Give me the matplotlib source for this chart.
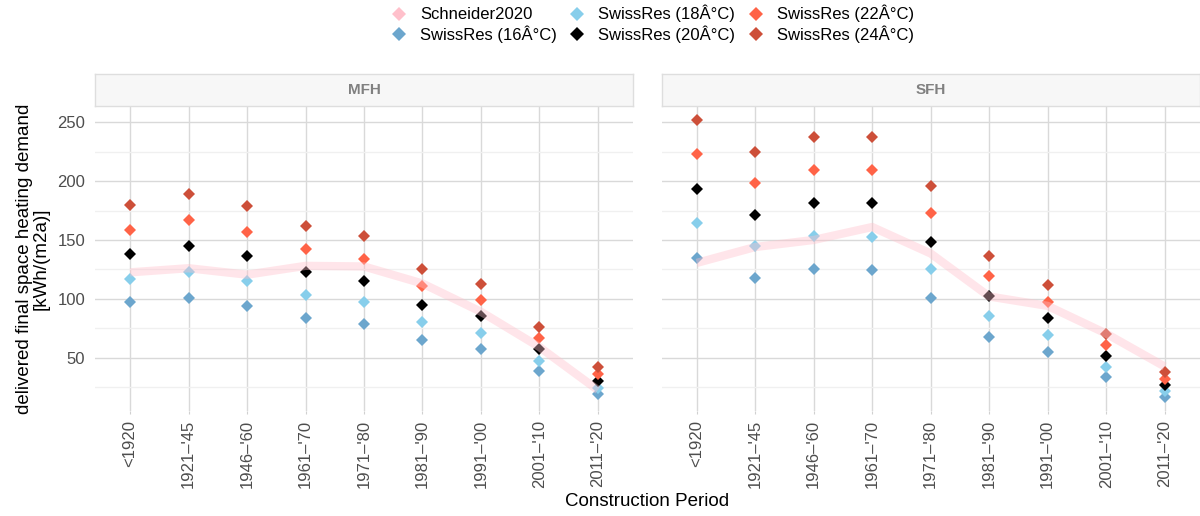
import numpy as np
import matplotlib
matplotlib.use("Agg")
import matplotlib.pyplot as plt
from matplotlib.lines import Line2D

plt.rcParams["font.family"] = ["Liberation Sans", "DejaVu Sans"]

periods = ["<1920", "1921–'45", "1946–'60", "1961–'70", "1971–'80",
           "1981–'90", "1991–'00", "2001–'10", "2011–'20"]

# MFH
mfh_schneider = [122.5, 126, 120.5, 128, 127.5, 113, 89, 59, 22.5]
mfh_16 = [97, 100.5, 94, 83.5, 78.5, 65, 57, 38.5, 19.5]
mfh_18 = [117, 123, 115, 103, 97, 80, 71, 47.5, 24.5]
mfh_20 = [138, 145, 136, 122.5, 115.5, 95, 85, 57, 30]
mfh_22 = [158.5, 167, 157, 142, 134, 110.5, 99, 66.5, 36]
mfh_24 = [179.5, 189, 178.5, 162, 153, 125.5, 113, 76, 42]

# SFH
sfh_schneider = [130.5, 144, 150, 161, 138.5, 102, 94, 70.5, 42.5]
sfh_16 = [135, 118, 125, 124.5, 101, 68, 55, 34, 16.5]
sfh_18 = [164.5, 145, 153, 152.5, 125, 85, 69.5, 42.5, 21.5]
sfh_20 = [193.5, 171.5, 181, 181, 148.5, 102, 83.5, 51.5, 26.5]
sfh_22 = [223, 198.5, 209.5, 209.5, 172.5, 119, 97.5, 61, 32]
sfh_24 = [252, 224.5, 237.5, 237.5, 196, 136, 112, 70, 37.5]

labels = ["Schneider2020", "SwissRes (16Â°C)", "SwissRes (18Â°C)",
          "SwissRes (20Â°C)", "SwissRes (22Â°C)", "SwissRes (24Â°C)"]
colors = ["#FFC0CB", "#6CA6CD", "#87CEEB", "#000000", "#FF6347", "#CD4F39"]

panels = {
    "MFH": (mfh_schneider, [mfh_16, mfh_18, mfh_20, mfh_22, mfh_24]),
    "SFH": (sfh_schneider, [sfh_16, sfh_18, sfh_20, sfh_22, sfh_24]),
}

allvals = np.concatenate([np.ravel(v[0]) for v in panels.values()] +
                         [np.ravel(s) for v in panels.values() for s in v[1]])
lo, hi = allvals.min(), allvals.max()
pad = 0.05 * (hi - lo)

fig = plt.figure(figsize=(12, 5.16), dpi=100)

W, H = 1200.0, 516.0
lefts = [95 / W, 661.7 / W]
width = 538 / W
bottom = 1 - 411 / H
height = (411 - 106) / H
strip_h = (106 - 74.5) / H

x = np.arange(len(periods))
for (name, (schn, series)), left in zip(panels.items(), lefts):
    ax = fig.add_axes([left, bottom, width, height])
    for vals, c in zip(series, colors[1:]):
        ax.plot(x, vals, linestyle="none", marker="D", markersize=6,
                markeredgewidth=0, color=c, zorder=3)
    ax.plot(x, schn, color=colors[0], alpha=0.4, linewidth=6,
            solid_capstyle="butt", zorder=4)
    ax.set_xlim(-0.6, len(periods) - 0.4)
    ax.set_ylim(lo - pad, hi + pad)
    ax.set_yticks([50, 100, 150, 200, 250])
    ax.set_yticks([25, 75, 125, 175, 225], minor=True)
    ax.set_xticks(x)
    ax.set_xticklabels(periods, rotation=90, color="#4D4D4D", fontsize=12)
    ax.grid(which="major", color="#D9D9D9", linewidth=1.0)
    ax.grid(which="minor", axis="y", color="#F0F0F0", linewidth=1.0)
    ax.set_axisbelow(True)
    for sp in ax.spines.values():
        sp.set_visible(False)
    ax.tick_params(axis="x", length=2.5, color="#D0D0D0", pad=4)
    ax.tick_params(axis="y", which="both", length=0, pad=7,
                   labelcolor="#4D4D4D", labelsize=12)
    ax.tick_params(axis="y", which="minor", labelleft=False)
    if name == "SFH":
        ax.tick_params(axis="y", labelleft=False)

    sax = fig.add_axes([left, bottom + height, width, strip_h])
    sax.set_xticks([])
    sax.set_yticks([])
    sax.set_facecolor("#F7F7F7")
    for sp in sax.spines.values():
        sp.set_color("#DEDEDE")
        sp.set_linewidth(1.0)
    sax.text(0.5, 0.5, name, ha="center", va="center", fontsize=11,
             fontweight="bold", color="#808080", transform=sax.transAxes)

fig.text(33 / W, 1 - 259 / H,
         "delivered final space heating demand\n[kWh/(m2a)]",
         rotation=90, ha="center", va="center", multialignment="center",
         fontsize=13.5, linespacing=0.95)
fig.text(647 / W, 1 - 502 / H, "Construction Period", ha="center",
         va="center", fontsize=13.5)

handles = []
for lab, c in zip(labels, colors):
    handles.append(Line2D([], [], linestyle="none", marker="D", markersize=7,
                          markeredgewidth=0, color=c, label=lab))
fig.legend(handles=handles, loc="upper center", bbox_to_anchor=(0.5435, 1.0),
           ncol=3, frameon=False, fontsize=12, handlelength=1.0,
           handletextpad=0.76, columnspacing=0.73, labelspacing=0.2,
           borderaxespad=0.1, borderpad=0.2)

fig.savefig("out.png", dpi=100)
